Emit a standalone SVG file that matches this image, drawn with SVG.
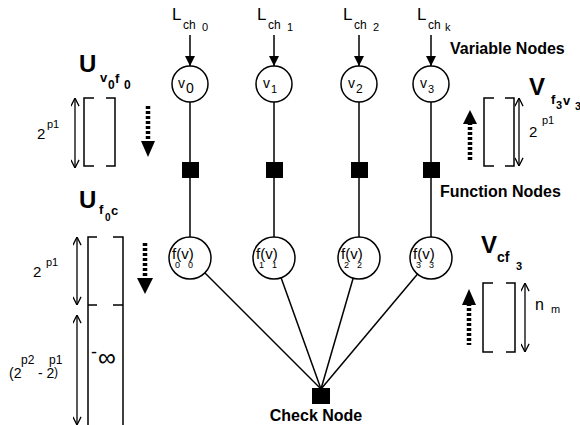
<svg xmlns="http://www.w3.org/2000/svg" width="580" height="425" viewBox="0 0 580 425">
<style>
text{font-family:"Liberation Sans",Arial,sans-serif;fill:#000}
.b{font-weight:bold}
.ln{stroke:#000;stroke-width:1.5;fill:none}
.nd{stroke:#000;stroke-width:1.5;fill:#fff}
.sq{fill:#000}
.dot{stroke:#000;stroke-width:4.5;stroke-dasharray:3 2;fill:none}
.da{stroke:#000;stroke-width:1.3;fill:none;marker-start:url(#o);marker-end:url(#o)}
</style>
<defs>
<marker id="a" viewBox="0 0 10 10" refX="10" refY="5" markerWidth="10" markerHeight="10" markerUnits="userSpaceOnUse" orient="auto"><path d="M0,0 L10,5 L0,10 Z" fill="#000"/></marker>
<marker id="o" viewBox="0 0 10 10" refX="10" refY="5" markerWidth="9" markerHeight="9" markerUnits="userSpaceOnUse" orient="auto-start-reverse"><path d="M1,0.5 L10,5 L1,9.5" fill="none" stroke="#000" stroke-width="1.4"/></marker>
</defs>

<g id="connectors">
<line class="ln" x1="190" y1="35" x2="190" y2="66" marker-end="url(#a)"/>
<line class="ln" x1="274" y1="35" x2="274" y2="66" marker-end="url(#a)"/>
<line class="ln" x1="359" y1="35" x2="359" y2="66" marker-end="url(#a)"/>
<line class="ln" x1="431" y1="35" x2="431" y2="66" marker-end="url(#a)"/>
<line class="ln" x1="190" y1="84" x2="190" y2="258"/>
<line class="ln" x1="274" y1="84" x2="274" y2="258"/>
<line class="ln" x1="359" y1="84" x2="359" y2="258"/>
<line class="ln" x1="431" y1="84" x2="431" y2="258"/>
<line class="ln" x1="190" y1="258" x2="321" y2="389"/>
<line class="ln" x1="274" y1="258" x2="321" y2="389"/>
<line class="ln" x1="359" y1="258" x2="321" y2="389"/>
<line class="ln" x1="431" y1="258" x2="321" y2="389"/>
</g>

<g id="lch0"><text x="172" y="20" font-size="17">L</text><text x="183" y="29" font-size="12">ch</text><text x="202" y="31" font-size="11">0</text></g>
<g id="lch1"><text x="257" y="20" font-size="17">L</text><text x="268" y="29" font-size="12">ch</text><text x="287" y="31" font-size="11">1</text></g>
<g id="lch2"><text x="343" y="20" font-size="17">L</text><text x="354" y="29" font-size="12">ch</text><text x="373" y="31" font-size="11">2</text></g>
<g id="lchk"><text x="417" y="20" font-size="17">L</text><text x="428" y="29" font-size="12">ch</text><text x="445" y="31" font-size="11">k</text></g>

<g id="v0"><circle class="nd" cx="190" cy="84" r="18"/><text x="178" y="88" font-size="14">v</text><text x="186" y="93" font-size="14">0</text></g>
<g id="v1"><circle class="nd" cx="274" cy="84" r="18"/><text x="263" y="88" font-size="14">v</text><text x="271" y="93" font-size="11">1</text></g>
<g id="v2"><circle class="nd" cx="359" cy="84" r="18"/><text x="348" y="88" font-size="14">v</text><text x="356" y="93" font-size="12">2</text></g>
<g id="v3"><circle class="nd" cx="431" cy="84" r="18"/><text x="420" y="88" font-size="14">v</text><text x="428" y="93" font-size="11">3</text></g>

<g id="fn0"><rect class="sq" x="182" y="162" width="17" height="16"/></g>
<g id="fn1"><rect class="sq" x="266" y="162" width="17" height="16"/></g>
<g id="fn2"><rect class="sq" x="351" y="162" width="17" height="16"/></g>
<g id="fn3"><rect class="sq" x="423" y="162" width="17" height="16"/></g>

<g id="f0"><circle class="nd" cx="190" cy="258" r="21"/><text x="172" y="259" font-size="15">f(v)</text><text x="175" y="268" font-size="9">0</text><text x="188" y="268" font-size="9">0</text></g>
<g id="f1"><circle class="nd" cx="274" cy="258" r="21"/><text x="256" y="259" font-size="15">f(v)</text><text x="259" y="268" font-size="9">1</text><text x="272" y="268" font-size="9">1</text></g>
<g id="f2"><circle class="nd" cx="359" cy="258" r="21"/><text x="341" y="259" font-size="15">f(v)</text><text x="344" y="268" font-size="9">2</text><text x="357" y="268" font-size="9">2</text></g>
<g id="f3"><circle class="nd" cx="431" cy="258" r="21"/><text x="413" y="259" font-size="15">f(v)</text><text x="416" y="268" font-size="9">3</text><text x="429" y="268" font-size="9">3</text></g>

<g id="check"><rect class="sq" x="312" y="388" width="18" height="16"/><text class="b" x="316" y="421" font-size="16" text-anchor="middle">Check Node</text></g>

<g id="labels">
<text class="b" x="450" y="54" font-size="16">Variable Nodes</text>
<text class="b" x="440" y="197" font-size="16">Function Nodes</text>
</g>

<g id="u-v0f0">
<text class="b" x="79" y="72" font-size="24">U</text>
<text class="b" x="100" y="82" font-size="13">v</text><text class="b" x="108" y="89" font-size="12">0</text>
<text class="b" x="115" y="83" font-size="13">f</text><text class="b" x="124" y="89" font-size="12">0</text>
<path class="ln" d="M94,98 H84 V166 H94 M106,98 H115 V166 H106"/>
<line class="da" x1="75" y1="98" x2="75" y2="168"/>
<text x="37" y="139" font-size="15">2</text><text x="47" y="128" font-size="11">p1</text>
<line class="dot" x1="148" y1="106" x2="148" y2="142"/>
<path d="M141,141 H155 L148,157 Z" fill="#000"/>
</g>

<g id="u-f0c">
<text class="b" x="79" y="208" font-size="24">U</text>
<text class="b" x="99" y="214" font-size="13">f</text><text class="b" x="105" y="221" font-size="10">0</text><text class="b" x="111" y="215" font-size="13">c</text>
<path class="ln" d="M97,237 H88 V425 M88,305 H97 M113,237 H123 V425 M113,305 H123"/>
<line class="da" x1="77" y1="237" x2="77" y2="305"/>
<line class="da" x1="77" y1="315" x2="77" y2="425"/>
<text x="33" y="277" font-size="15">2</text><text x="46" y="266" font-size="11">p1</text>
<text font-size="14"><tspan x="9" y="378">(2</tspan><tspan x="21" y="364" font-size="12">p2</tspan><tspan x="38" y="378">- 2</tspan><tspan x="49" y="364" font-size="12">p1</tspan><tspan x="54" y="376" font-size="12">)</tspan></text>
<text x="91" y="358" font-size="18">-</text>
<text x="98" y="366" font-size="25">∞</text>
<line class="dot" x1="145" y1="243" x2="145" y2="280"/>
<path d="M137,278 H153 L145,294 Z" fill="#000"/>
</g>

<g id="v-f3v3">
<text class="b" x="529" y="95" font-size="24">V</text>
<text class="b" x="551" y="104" font-size="13">f</text><text class="b" x="556" y="109" font-size="11">3</text>
<text class="b" x="563" y="105" font-size="13">v</text><text class="b" x="575" y="110" font-size="11">3</text>
<path class="ln" d="M494,98 H484 V166 H494 M505,98 H514 V166 H505"/>
<line class="da" x1="519" y1="98" x2="519" y2="166"/>
<text x="529" y="137" font-size="15">2</text><text x="542" y="124" font-size="11">p1</text>
<path d="M463,124 H477 L470,110 Z" fill="#000"/>
<line class="dot" x1="470" y1="122" x2="470" y2="160"/>
</g>

<g id="v-cf3">
<text class="b" x="481" y="253" font-size="24">V</text>
<text class="b" x="497" y="262" font-size="14">cf</text><text class="b" x="516" y="270" font-size="11">3</text>
<path class="ln" d="M493,283 H483 V352 H493 M506,283 H515 V352 H506"/>
<line class="da" x1="525" y1="283" x2="525" y2="352"/>
<text x="535" y="310" font-size="16">n</text><text x="551" y="313" font-size="11">m</text>
<path d="M462,305 H476 L469,289 Z" fill="#000"/>
<line class="dot" x1="469" y1="303" x2="469" y2="345"/>
</g>
</svg>
